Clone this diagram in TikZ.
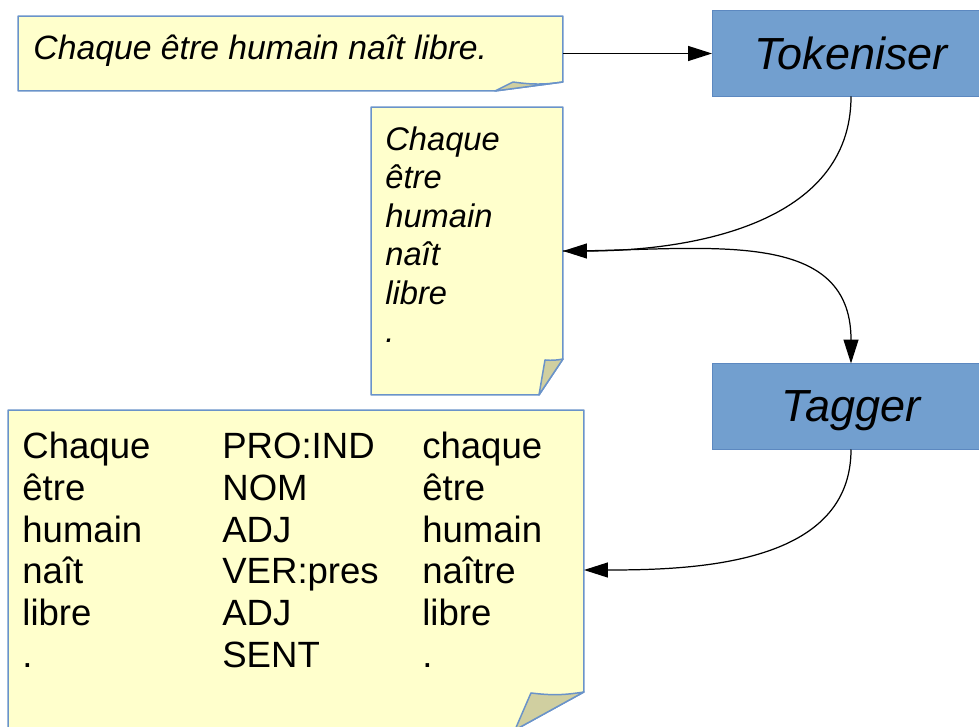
\documentclass[tikz,border=0pt]{standalone}
\usepackage{fontspec}
\setmainfont{Liberation Sans}
\usepackage{tikz}
\usetikzlibrary{matrix}
\usetikzlibrary{arrows.meta}

\definecolor{notefill}{HTML}{FFFFCC}
\definecolor{noteline}{HTML}{6A93C9}
\definecolor{notefold}{HTML}{D0CFA0}
\definecolor{boxfill}{HTML}{729FCF}
\definecolor{boxline}{HTML}{5C88C0}

% sheet of paper with a curled corner: node, cut x, cut y, flap tip (x,y)
\newcommand{\dognote}[5]{%
  \draw[noteline, line width=0.85pt, fill=notefill, line join=round]
    (#1.north west) -- (#1.north east) -- ([shift={(0,-#3)}]#1.south east)
    -- ([shift={(-#2,0)}]#1.south east) -- (#1.south west) -- cycle;
  \draw[noteline, line width=0.85pt, fill=notefold, line join=round]
    ([shift={(0,-#3)}]#1.south east) to[bend left=8] ([shift={(#4,#5)}]#1.south east)
    -- ([shift={(-#2,0)}]#1.south east) -- cycle;
}

\begin{document}
\begin{tikzpicture}[x=0.02cm, y=-0.02cm,
    paper/.style={inner sep=0pt, outer sep=0pt},
    stage/.style={draw=boxline, fill=boxfill, line width=0.6pt, inner sep=0pt, outer sep=0pt,
      minimum width=5.56cm, minimum height=1.72cm, text depth=0pt,
      font=\fontsize{25.6}{30}\selectfont\itshape},
    link/.style={-{Triangle[length=0.48cm,width=0.3cm]}, line width=0.7pt}]
  \clip (0,0) rectangle (979,726);

  \node[paper, minimum width=10.9cm, minimum height=1.5cm] (sentence) at (290.5,53.5) {};
  \node[paper, minimum width=3.84cm, minimum height=5.76cm] (tokens) at (467,251) {};
  \node[paper, minimum width=11.52cm, minimum height=6.4cm] (tagged) at (296,570) {};
  \node[stage] (tok) at (851,53.5) {Tokeniser};
  \node[stage] (tag) at (851,406.5) {Tagger};

  \dognote{sentence}{68}{9}{-50}{-9}
  \dognote{tokens}{24}{36}{-18}{-35}
  \dognote{tagged}{69}{38}{-53}{-37}

  \node[anchor=base west, inner sep=0pt, font=\fontsize{19.2}{22}\selectfont\itshape] (s)
    at ([shift={(15,43)}]sentence.north west) {Chaque être humain naît libre.};

  \matrix (w) [matrix of nodes, anchor=north west, inner sep=0pt,
    nodes={anchor=base west, inner sep=0pt, text height=14.5pt, text depth=7.4pt,
      font=\fontsize{18.6}{21.9}\selectfont\itshape}]
    at ([shift={(14,17.4)}]tokens.north west)
  {
     Chaque \\
     être \\
     humain \\
     naît \\
     libre \\
     . \\};

  \matrix (t) [matrix of nodes, anchor=north west, inner sep=0pt, column sep=0pt,
    nodes={anchor=base west, inner sep=0pt, text width=4cm, text height=16pt, text depth=7.8pt,
      font=\fontsize{20.8}{23.8}\selectfont}]
    at ([shift={(14,19.9)}]tagged.north west)
  {
     Chaque & PRO:IND & chaque \\
     être & NOM & être \\
     humain & ADJ & humain \\
     naît & VER:pres & naître \\
     libre & ADJ & libre \\
     . & SENT & . \\};

  \path[link]
    (sentence) edge (tok)
    (tok) edge[out=-90, in=0] (tokens.east)
    (tokens.east) edge[out=0, in=90, looseness=1.15] (tag)
    (tag) edge[out=-90, in=0] (tagged.east);
\end{tikzpicture}
\end{document}
